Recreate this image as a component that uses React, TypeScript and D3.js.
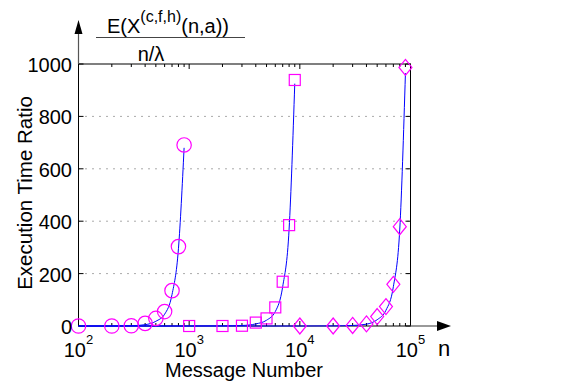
import React, { useEffect, useRef } from 'react';
import * as d3 from 'd3';

// message numbers and execution time ratios
const nCircle = [100, 200, 300, 400, 500, 600, 700, 800, 900];
const vCircle = [0, 0, 1, 10, 29, 55, 135, 303, 691];
const nSquare = [1000, 2000, 3000, 4000, 5000, 6000, 7000, 8000, 9000];
const vSquare = [0, 0, 1, 13, 29, 71, 169, 385, 939];
const nDiamond = [10000, 20000, 30000, 40000, 50000, 60000, 70000, 80000, 90000];
const vDiamond = [0, 0, 2, 8, 36, 74, 159, 379, 987];

// fitted curves (blue), each starting at the left edge of the axis
const fitN1 = [100, 200, 300, 400, 500, 600, 700, 800, 900];
const fitV1 = [0, 0, 1, 5, 18, 45, 120, 295, 680];
const fitN2 = [100, 1000, 2000, 3000, 4000, 5000, 6000, 7000, 8000, 9000];
const fitV2 = [0, 0, 0.5, 2, 8, 22, 55, 150, 370, 925];
const fitN3 = [100, 10000, 20000, 30000, 40000, 50000, 60000, 70000, 80000, 90000];
const fitV3 = [0, 0, 0.5, 2, 7, 24, 60, 150, 370, 965];

const yTicks = [0, 200, 400, 600, 800, 1000];
const xTickExp = [2, 3, 4, 5];

const App = () => {
  const ref = useRef<SVGSVGElement>(null);

  useEffect(() => {
    const svg = d3.select(ref.current);
    svg.selectAll('*').remove();

    const left = 78.5, right = 410.5, top = 64, bottom = 326;
    const x = d3.scaleLog().domain([100, 100000]).range([left, right]);
    const y = d3.scaleLinear().domain([0, 1000]).range([bottom, top]);
    const font = 'Liberation Sans, Arial, Helvetica, sans-serif';

    svg.append('rect').attr('width', 576).attr('height', 381).attr('fill', '#fff');

    // dotted grid
    svg.append('g')
      .selectAll('line')
      .data(yTicks.filter((t) => t > 0 && t < 1000))
      .enter().append('line')
      .attr('x1', left).attr('x2', right)
      .attr('y1', (d) => y(d)).attr('y2', (d) => y(d))
      .attr('stroke', '#555')
      .attr('stroke-width', 1)
      .attr('stroke-dasharray', '1,6');

    // minor / major ticks on x (bottom and top)
    const minor: number[] = [];
    for (let e = 2; e < 5; e++) for (let k = 2; k <= 9; k++) minor.push(k * Math.pow(10, e));
    const tg = svg.append('g').attr('stroke', '#000').attr('stroke-width', 1);
    minor.forEach((m) => {
      tg.append('line').attr('x1', x(m)).attr('x2', x(m)).attr('y1', bottom).attr('y2', bottom - 3);
      tg.append('line').attr('x1', x(m)).attr('x2', x(m)).attr('y1', top).attr('y2', top + 3);
    });
    xTickExp.forEach((e) => {
      const v = Math.pow(10, e);
      tg.append('line').attr('x1', x(v)).attr('x2', x(v)).attr('y1', bottom).attr('y2', bottom - 5);
      tg.append('line').attr('x1', x(v)).attr('x2', x(v)).attr('y1', top).attr('y2', top + 5);
    });
    yTicks.forEach((t) => {
      tg.append('line').attr('x1', left).attr('x2', left + 5).attr('y1', y(t)).attr('y2', y(t));
      tg.append('line').attr('x1', right).attr('x2', right - 5).attr('y1', y(t)).attr('y2', y(t));
    });

    // box
    svg.append('rect')
      .attr('x', left).attr('y', top)
      .attr('width', right - left).attr('height', bottom - top)
      .attr('fill', 'none').attr('stroke', '#000').attr('stroke-width', 1);

    // axis arrows
    const ag = svg.append('g');
    ag.append('line').attr('x1', left).attr('x2', left).attr('y1', top).attr('y2', 32)
      .attr('stroke', '#555').attr('stroke-width', 1.2);
    ag.append('path').attr('d', `M${left},20 L${left - 4},34 L${left + 4},34 Z`).attr('fill', '#000');
    ag.append('line').attr('x1', right).attr('x2', 440).attr('y1', bottom).attr('y2', bottom)
      .attr('stroke', '#555').attr('stroke-width', 1.2);
    ag.append('path').attr('d', `M451,${bottom} L437,${bottom - 5} L437,${bottom + 5} Z`).attr('fill', '#000');

    // fitted curves
    const line = d3.line<[number, number]>()
      .x((d) => x(d[0]))
      .y((d) => y(d[1]))
      .curve(d3.curveMonotoneX);
    [[fitN1, fitV1], [fitN2, fitV2], [fitN3, fitV3]].forEach(([ns, vs]) => {
      svg.append('path')
        .datum(ns.map((n, i) => [n, vs[i]] as [number, number]))
        .attr('d', line)
        .attr('fill', 'none')
        .attr('stroke', '#0000ff')
        .attr('stroke-width', 1);
    });

    // markers
    const mg = svg.append('g').attr('fill', 'none').attr('stroke', '#ff00ff').attr('stroke-width', 1.2);
    mg.selectAll('circle')
      .data(nCircle.map((n, i) => [n, vCircle[i]]))
      .enter().append('circle')
      .attr('cx', (d) => x(d[0])).attr('cy', (d) => y(d[1])).attr('r', 7.2);
    mg.selectAll('rect')
      .data(nSquare.map((n, i) => [n, vSquare[i]]))
      .enter().append('rect')
      .attr('x', (d) => x(d[0]) - 5.5).attr('y', (d) => y(d[1]) - 5.5)
      .attr('width', 11).attr('height', 11);
    mg.selectAll('path')
      .data(nDiamond.map((n, i) => [n, vDiamond[i]]))
      .enter().append('path')
      .attr('d', (d) => {
        const cx = x(d[0]), cy = y(d[1]);
        return `M${cx},${cy - 8} L${cx + 6.5},${cy} L${cx},${cy + 8} L${cx - 6.5},${cy} Z`;
      });

    // y tick labels
    svg.append('g')
      .selectAll('text')
      .data(yTicks)
      .enter().append('text')
      .attr('x', 72).attr('y', (d) => y(d) + 8)
      .attr('text-anchor', 'end')
      .attr('font-family', font).attr('font-size', 20)
      .text((d) => d);

    // x tick labels 10^e
    xTickExp.forEach((e) => {
      const t = svg.append('text')
        .attr('x', x(Math.pow(10, e))).attr('y', 357)
        .attr('text-anchor', 'middle')
        .attr('font-family', font).attr('font-size', 20);
      t.append('tspan').text('10');
      t.append('tspan').attr('dy', -13).attr('font-size', 13).text(e);
    });

    svg.append('text').attr('x', 444).attr('y', 356)
      .attr('font-family', font).attr('font-size', 22).attr('text-anchor', 'middle').text('n');

    // axis titles
    svg.append('text').attr('x', 244).attr('y', 377)
      .attr('text-anchor', 'middle').attr('font-family', font).attr('font-size', 20)
      .text('Message Number');
    svg.append('text')
      .attr('transform', 'translate(32,193) rotate(-90)')
      .attr('text-anchor', 'middle').attr('font-family', font).attr('font-size', 20.5)
      .text('Execution Time Ratio');

    // fraction label
    const num = svg.append('text').attr('x', 107).attr('y', 33)
      .attr('font-family', font).attr('font-size', 20);
    num.append('tspan').text('E(X');
    num.append('tspan').attr('dy', -11).attr('font-size', 16).text('(c,f,h)');
    num.append('tspan').attr('dy', 11).text('(n,a))');
    svg.append('line').attr('x1', 96).attr('x2', 245).attr('y1', 37.5).attr('y2', 37.5)
      .attr('stroke', '#444').attr('stroke-width', 1);
    svg.append('text').attr('x', 151).attr('y', 61)
      .attr('text-anchor', 'middle').attr('font-family', font).attr('font-size', 20)
      .text('n/λ');
  }, []);

  return (
    <svg ref={ref} width={576} height={381}
      style={{ position: 'absolute', left: 0, top: 0, display: 'block' }} />
  );
};

export default App;
